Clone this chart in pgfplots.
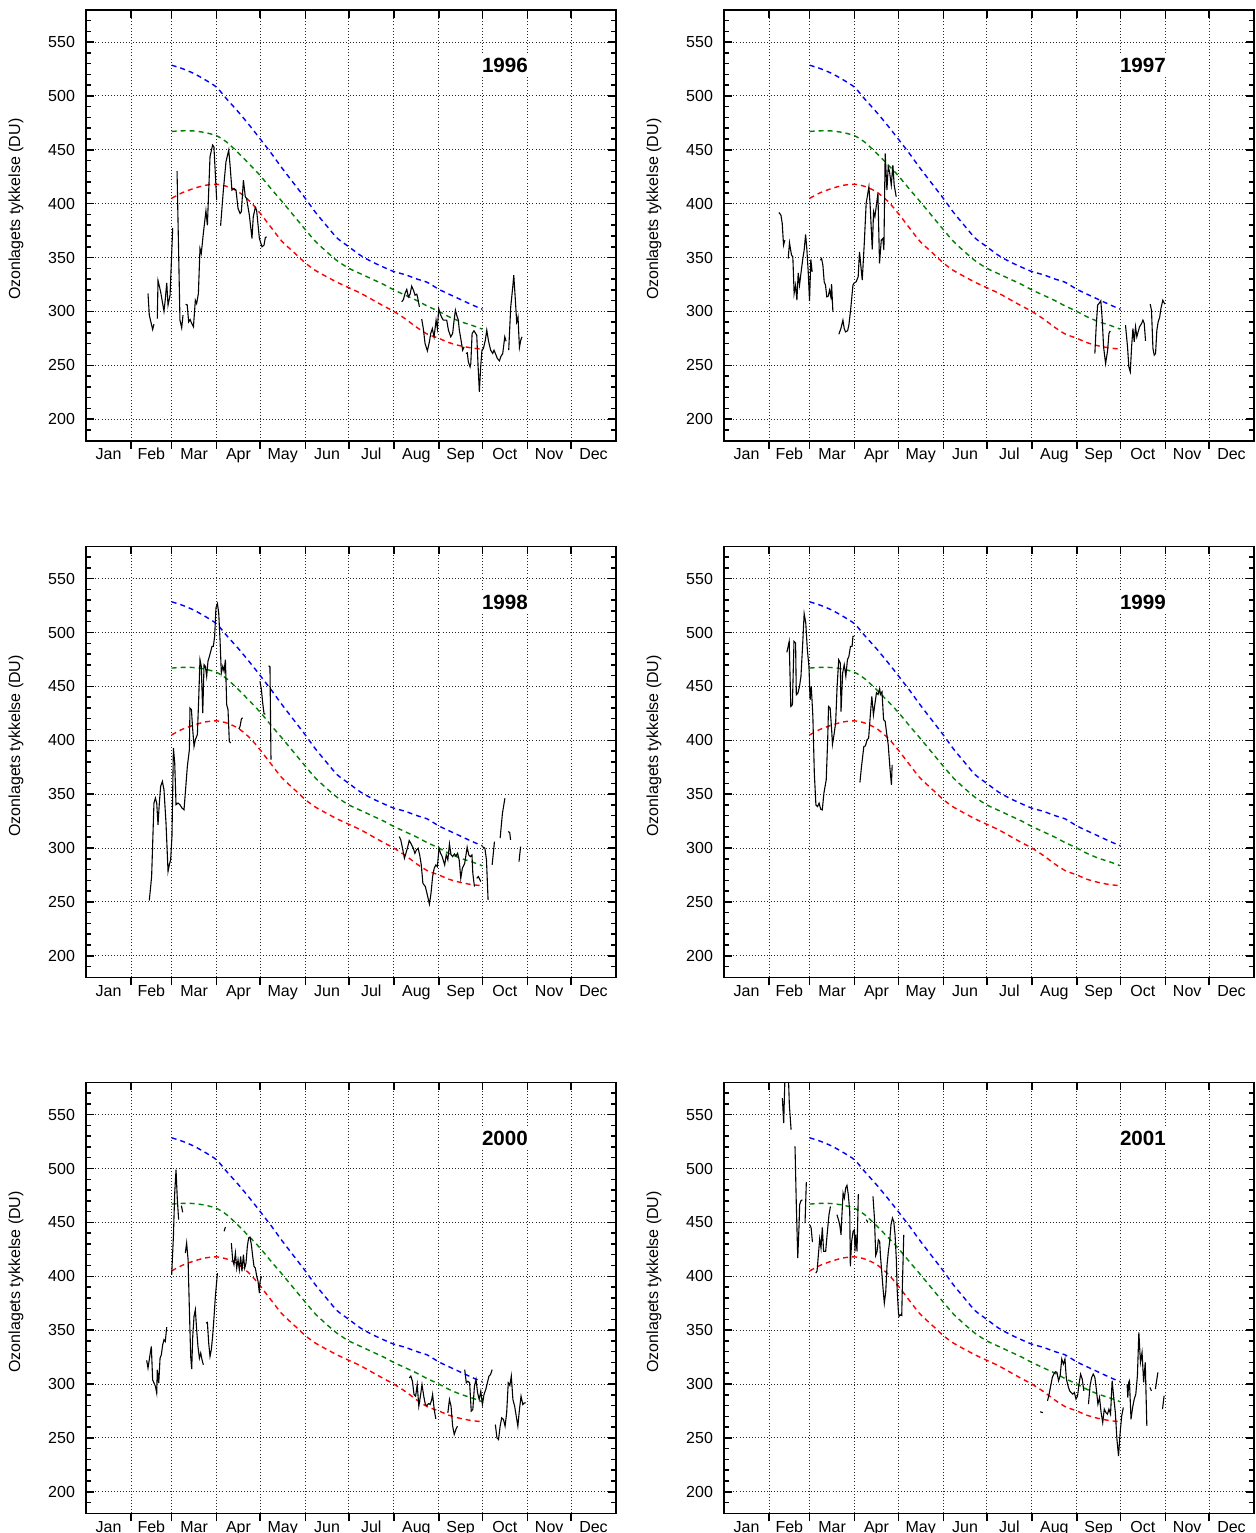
\documentclass[border=0pt]{standalone}
\usepackage{pgfplots}
\pgfplotsset{compat=1.18}
\usepackage{fontspec}
\setmainfont{Liberation Sans}
\definecolor{refblue}{RGB}{0,0,255}
\definecolor{refgreen}{RGB}{0,128,0}
\definecolor{refred}{RGB}{255,0,0}
\pgfplotsset{
  ozonbase/.style={
    scale only axis, width=265pt, height=215.5pt, anchor=south west,
    xmin=0, xmax=365, ymin=180, ymax=580,
    axis line style={line width=0.8pt},
    tick style={black, line width=0.75pt},
    /pgf/number format/assume math mode=true,
    tick label style={font=\fontsize{8}{9.6}\selectfont},
  },
  ozon/.style={
    ozonbase,
    tick align=inside,
    xtick pos=top,
    xtick={31,59,90,120,151,181,212,243,273,304,334},
    xticklabels={},
    ytick={200,250,...,550},
    minor ytick={190,200,...,570},
    ytick pos=both, yticklabel pos=left,
    major tick length=4pt, minor tick length=2.5pt,
    xmajorgrids, ymajorgrids,
    grid style={black!85, line width=0.45pt, dash pattern=on 0.45pt off 1.1pt},
    unbounded coords=jump,
    ylabel={Ozonlagets tykkelse (DU)},
    every axis y label/.style={at={(axis description cs:-0.1321,0.537)}, rotate=90, anchor=center, font=\fontsize{8}{9.6}\selectfont},
    yticklabel style={xshift=-2pt},
  },
  ozonx/.style={
    ozonbase,
    hide y axis,
    xtick pos=bottom, tick align=outside,
    xtick={31,59,90,120,151,181,212,243,273,304,334},
    xticklabels={},
    major tick length=4pt,
    extra x ticks={15.5,45,74.5,105,135.5,166,196.5,227.5,258,288.5,319,349.5},
    extra x tick labels={Jan,Feb,Mar,Apr,May,Jun,Jul,Aug,Sep,Oct,Nov,Dec},
    extra x tick style={major tick length=0pt},
    xticklabel style={anchor=base, yshift=-9.4pt},
  },
  refline/.style={line width=0.7pt, dash pattern=on 2.5pt off 2pt, smooth, tension=0.4},
}
\newcommand\refcurves{%
\addplot[refline, refblue] coordinates {(59,528.5) (66,525.5) (74,521) (82,515) (90,508) (97,497) (105,485) (113,472) (120,460) (128,446) (135,433) (143,419) (151,405) (158,392) (166,379) (173,368) (181,360) (189,352) (197,346) (205,341) (212,337) (220,334) (228,330) (235,327) (243,320.5) (250,316) (258,311) (266,306) (273,302)};
\addplot[refline, refgreen] coordinates {(59,467) (66,467.6) (74,467.5) (82,466) (90,463) (97,457) (105,447) (113,436) (120,426) (128,413) (135,402) (143,389) (151,376) (158,365) (166,355) (173,347) (181,340) (189,335) (197,330) (205,325) (212,320) (220,315) (228,310) (235,305) (243,300) (250,295) (258,290.5) (266,287) (273,283.5)};
\addplot[refline, refred] coordinates {(59,405) (66,410) (74,414) (82,417) (90,418) (97,416) (105,411) (113,402) (120,391) (128,377) (135,365) (143,355) (151,345) (158,338) (166,332) (173,327) (181,322) (189,317) (197,311) (205,305) (212,300) (220,293) (228,285) (235,279) (243,275) (250,271) (258,268) (266,266) (273,265)};
}
\newcommand\panel[4]{%
\begin{axis}[ozon, at={(#1,#2)}]
\refcurves
\addplot[black, line width=0.55pt] coordinates {#4};
\node[fill=white, inner sep=2pt, font=\bfseries\fontsize{10.3}{12}\selectfont] at (axis cs:288.5,528) {#3};
\end{axis}
\begin{axis}[ozonx, at={(#1,#2)}]
\end{axis}}
\begin{document}
\begin{tikzpicture}
% 1996
\panel{43pt}{-220.35pt}{1996}{(42.7,316.6) (43.6,296.5) (45.9,283.2) (46.8,288.2) (47.5,nan) (49.1,293.4) (49.6,328.7) (51.4,318.2) (53.7,300.2) (54.6,311.1) (55.6,326.5) (56.5,305.8) (57.9,315.1) (59.7,377.6) (61,nan)
(62.7,430.2) (64.7,292) (65.9,284.7) (66.8,296.5) (67.5,nan)
(68.6,306.7) (69.7,306) (70.7,290.3) (71.7,292.5) (72.6,289.4) (74,285.7) (75.3,310.4) (76.2,307.3) (77.4,316.6) (78.5,358.4) (79.4,353.8) (80.8,372.3) (82.6,393.4) (83.6,380) (85.4,443.5) (87.2,454.4) (88.1,452.8) (90,403.3) (91,nan)
(92.7,379.5) (94.6,412.6) (96.4,438.9) (98.3,449.7) (99.2,435.8) (100.5,412.6) (101.9,414.1) (103.3,412.6) (104.7,395.6) (106.1,390.9) (107,392.5) (108.4,421.9) (109.7,406.4) (110.6,404.8) (112.5,389.4) (114.3,367.7) (115.2,387.8) (116.6,396.5) (117.5,394) (119.4,367.7) (121.2,360) (122.6,361.5) (123.5,368.6) (124.4,369.2) (150,nan)
(217.4,308.9) (218.6,311) (219.7,316.6) (220.9,320.4) (222,313.5) (223.2,316) (224.3,323.4) (225.5,319.7) (226.6,315.1) (227.8,316) (228.4,312.9) (229.6,304.2) (230,nan)
(231.2,292.8) (232.3,284.1) (233.5,270.2) (235.1,263.4) (236.5,271.8) (237.4,279.5) (238.5,284.1) (239.7,276.4) (241.1,291.9) (242,284.1) (242.9,302.7) (243.8,298.1) (245,294.4) (246.1,291.9) (248.4,291.9) (249.6,282.6) (251.2,276.4) (252.5,279.5) (253.5,291.9) (254.4,301.1) (255.3,296.5) (256.4,291.9) (257.1,282.6) (258.1,274.8) (259.4,264) (260.4,267.1) (261,nan)
(261.7,261) (262.6,261.5) (263.3,253.2) (264.5,248.5) (265,251.6) (265.9,279.5) (267.2,282) (269.1,277.9) (270,250) (270.9,225.3) (271.8,248.5) (272.7,264) (273.7,265.6) (275,273.3) (276,282.6) (277.3,271.8) (278.7,264) (280.1,261) (281,264) (282.4,259.4) (283.3,256.3) (284.7,254.1) (285.6,257.8) (287,261) (288.4,276.4) (289.3,272.3) (290,nan)
(291.1,264) (292.5,304.2) (293.9,322.8) (294.6,333.6) (295.7,310.4) (296.6,290.3) (297.5,295) (298.5,266.5) (299.4,273.3) (300.3,276.4)}
% 1997
\panel{362pt}{-220.35pt}{1997}{(37.8,391.8) (39.2,389.4) (40.1,381.6) (41,361.5) (41.9,366.1) (43,nan)
(44.2,349.1) (45.1,363.7) (46.5,352.2) (47.4,350.7) (48.3,316.6) (49.3,324.4) (50.2,310.4) (51.1,335.8) (52,324.4) (53.4,339.8) (54.3,349.1) (55.2,356.9) (56.2,371.4) (57.1,356.9) (58,336.7) (58.9,309.5) (59.8,348.2) (60.7,336.7) (63,nan)
(66.3,347.6) (67.2,349.1) (68.1,342.9) (69,327.5) (69.9,324.4) (70.8,313.5) (71.8,314.2) (72.7,319.7) (73.6,313.5) (74.1,325.3) (75,299.6) (77,nan)
(79.1,278.9) (80.5,284.1) (81.9,291.9) (82.8,284.1) (83.7,281) (85.1,282) (86,287.2) (87.4,304.2) (88.8,324.4) (89.7,326.5) (91,327.5) (92.4,332.1) (93.3,355.3) (94.3,341.4) (95.2,329) (96.6,363) (97.9,400.2) (99.8,415.7) (100.7,397.1) (102.1,357.5) (103,392.5) (103.9,387.8) (106,409.5) (107.1,344.5) (108.3,366.1) (109.4,367.7) (110.1,356.9) (111,446.6) (112.2,412.6) (113.1,434.2) (114,429.6) (115.2,417.2) (116.3,435.8) (117.2,417.2) (118.6,406.4) (150,nan)
(255.4,260.9) (256.3,285.7) (257.3,305.8) (258.2,307.3) (259.5,309.8) (260.5,291.9) (261.4,267.1) (262.8,251.6) (264.2,264) (265.1,279.5) (266,282) (270,nan)
(276.5,287.2) (277.9,267.1) (278.8,248.5) (279.8,243.9) (280.7,267.1) (281.6,284.1) (282.5,271.8) (283.4,285.7) (284.3,276.4) (285.2,281) (286.2,285.7) (287.6,288.8) (288.5,291.9) (289.4,288.8) (290.3,272.7) (292,nan)
(293.5,306.7) (294.4,301.1) (295.4,265.6) (296.3,259.4) (297.2,260.9) (298.1,282.6) (299,290.3) (300,294.3) (300.9,302.7) (302.2,310.4) (303.6,306.7)}
% 1998
\panel{43pt}{-488.65pt}{1998}{(43.6,251.3) (45.2,273.6) (46.8,341.7) (47.8,346.4) (48.7,341.7) (49.6,321.6) (50.5,341.7) (51.4,357.2) (52.6,361.8) (53.7,354.1) (55.1,323.1) (56.5,278.3) (57.4,284.5) (58.3,289.1) (59.2,310.8) (60.2,392.8) (61.1,378.9) (62,340.2) (63.4,341.7) (64.7,340.2) (66.1,337.1) (67.5,335.5) (68.4,351) (69.8,375.8) (71.2,391.2) (71.6,429.9) (72.6,428.4) (73.5,409.8) (74.4,394.3) (75.3,400.5) (76.7,405.2) (77.6,437.7) (78.5,474.8) (79.4,468.6) (80.4,425.3) (81.3,470.2) (82.2,468.6) (83.1,459.3) (84,473.3) (85,477.9) (85.9,482.5) (86.8,487.2) (87.7,487.2) (88.6,496.5) (89.5,522.8) (90.5,526.8) (91.4,518.1) (92.3,493.4) (93.2,462.4) (94.2,468.6) (95.1,464) (96,474.8) (96.4,456.2) (96.9,433) (97.8,428.4) (98.7,399) (99.6,397.4) (102,nan)
(105.2,410.4) (106.1,412.9) (107,419.7) (107.9,420.9) (110,nan)
(119.8,454.7) (120.8,447) (121.7,434.5) (122.6,424.7) (123.5,424.1) (124.5,nan)
(125.8,469.2) (126.7,468) (127.4,382) (150,nan)
(215.7,310.6) (216.8,307.5) (218.2,298.2) (219.3,290.5) (221,298.2) (222.6,306.9) (223.7,304.4) (225.4,299.8) (226.5,295.1) (227.6,298.2) (228.7,299.8) (229.8,293.6) (230.9,284.3) (232,267.3) (233.7,264.2) (234.8,258) (236.5,248) (237.6,258) (238.7,273.5) (239.8,281.2) (240.9,284.3) (242,282.7) (243.1,299.8) (244.2,295.1) (245.3,292) (247,284.3) (248.1,293.6) (249.2,289) (250.3,303.8) (251.4,293.6) (252.5,292) (253.7,294.5) (254.8,292.6) (255.9,295.1) (257,289) (258.1,271.9) (259.2,281.2) (260.8,285.8) (262.5,300.7) (263.6,293.6) (264.7,292) (265.8,293.6) (266.4,276.5) (267.5,264.2) (268.3,nan)
(269.1,271.9) (270.2,273.5) (271.9,268.8) (272.5,nan)
(273,301.3) (274.7,299.8) (275.8,289) (276.9,251.8) (278,nan)
(279.7,284.3) (281.3,306) (283,nan)
(285.2,309.1) (286.8,332.3) (288.5,346.2) (289.5,nan)
(290.7,315.3) (291.8,314.4) (292.4,307.5) (295,nan)
(298.2,287.4) (299.3,301.3)}
% 1999
\panel{362pt}{-488.65pt}{1999}{(43.3,481.6) (44.9,491.8) (46,431.4) (47.1,432.9) (48.2,491.8) (49.3,490.2) (49.8,442.2) (50.9,443.8) (52,450) (53,459.3) (54.1,487.1) (55.2,517.5) (56.3,508.9) (57.4,484) (58.5,468.6) (59.3,437.6) (60.1,450) (61.2,422.1) (62.2,369.4) (63.3,340) (64.4,338.5) (65.5,341.6) (66.6,336) (67.7,335.4) (68.8,350.9) (70.4,363.3) (71.4,400.4) (72,431.4) (73.1,429.9) (74.2,408.2) (74.7,396.2) (75.8,405.5) (76.9,416.4) (77.9,450) (79,474.7) (80.1,471.6) (80.6,426.7) (81.7,462.4) (82.8,470.1) (83.9,459.3) (85,474.7) (86,477.8) (87.1,487.1) (88.2,487.1) (88.8,496.4) (89.8,496.4) (91,nan)
(93.6,360.8) (94.7,375.6) (96.3,394.2) (97.4,394.8) (98.5,400.4) (99.6,401.9) (100.7,422.1) (101.8,440.7) (102.9,423.6) (104,434.5) (105,444.1) (106.1,442.5) (107.2,447.8) (107.7,442.5) (108.8,445) (109.9,419) (111,417.5) (112,406.6) (113.1,395.8) (114.2,375.6) (115.3,358.6) (115.8,377.2)}
% 2000
\panel{43pt}{-756.65pt}{2000}{(41.8,321.9) (42.7,314.8) (44.1,327.2) (45,334.9) (45.9,303.9) (46.9,300.8) (47.8,297.8) (48.7,291.6) (49.1,313.2) (49.6,307) (50.1,300.8) (51,324) (51.9,327.2) (52.8,336.4) (53.7,341.1) (54.6,339.5) (55.6,352.8) (57,nan)
(59,401.4) (60.2,437) (61.1,477.3) (62,498.9) (62.9,471.1) (63.8,452.5) (64.5,nan)
(65.7,465.5) (66.6,459.3) (67.5,nan)
(68.4,421.6) (69.3,430.8) (70.3,415.4) (71.2,369) (72.1,325.6) (72.8,313.8) (73.5,344.2) (74.4,362.8) (75.3,369) (76.2,350.4) (77.1,334.9) (78.1,324) (79,328.7) (79.9,322.5) (80.8,317.9) (81.7,nan)
(82.7,356.6) (83.6,357.2) (84.5,338) (85.4,325.6) (86.3,331.8) (87.2,344.2) (88.2,362.8) (89.1,381.3) (90.5,403) (93,nan)
(95.1,441.7) (96,445.7) (98,nan)
(100.1,430.8) (101,415.4) (101.9,410.8) (102.9,421.6) (103.8,407.6) (104.7,415.4) (105.6,406.1) (106.5,418.5) (107.4,404.5) (108.4,420) (109.3,407.6) (110.2,412.3) (111.1,427.7) (112,435.5) (112.9,436.4) (113.9,429.3) (114.8,418.5) (115.7,409.2) (116.6,407.6) (117.6,399.9) (118.5,395.2) (119.4,384.4) (119.9,395.2) (120.8,399.9) (150,nan)
(222.6,305.7) (223.7,307.3) (224.8,302.6) (225.9,290.3) (227,288.7) (228.1,299.5) (229.2,279.4) (230.3,288.7) (231.4,299.5) (232.6,288.7) (233.7,281) (234.8,280) (235.9,281.9) (237,281) (238.1,285.6) (238.7,290.3) (239.8,276.3) (240.9,267.7) (245,nan)
(249.2,273.2) (250.3,285.6) (251.4,279.4) (252.5,260.9) (253.6,253.2) (254.7,257.8) (255.8,260.9) (258,nan)
(260.8,313.4) (261.9,301.1) (263,302.6) (264.2,301.1) (265.3,274.8) (266.4,276.3) (267.5,297.9) (268.6,304.2) (269.7,291.8) (270.8,285.6) (271.9,293.4) (273,281) (274.1,290.3) (275.3,294.9) (276.4,301.1) (277.5,307.3) (278.6,308.8) (279.7,313.4) (280.8,nan)
(281.9,262.4) (283,250.1) (284.1,248.5) (285.2,260.9) (286.3,268.6) (287.5,267.1) (288.6,260.9) (289.7,273.2) (290.8,301.1) (291.9,298.6) (292.9,307.3) (294,285.6) (295.2,279.4) (296.3,270.2) (297.4,260.9) (298.5,276.3) (299.6,288.7) (300.8,281) (301.9,282.5) (302.9,282.5)}
% 2001
\panel{362pt}{-756.65pt}{2001}{(40.2,565.4) (41.1,542.2) (42.3,600) (43,nan)
(44,600) (45,559.2) (46.2,536) (47.5,nan)
(48.9,520.6) (49.8,466.4) (50.8,416.9) (51.7,447.8) (52.1,466.4) (53,470.1) (54,471) (55,nan)
(55.8,449.4) (56.7,487.4) (58,nan)
(59,447.8) (60,445) (60.9,431.7) (62,nan)
(63.2,402.9) (64.1,405) (65,419.9) (65.9,434.8) (66.8,426.2) (67.7,445.3) (68.6,423.1) (70,423.1) (71,438.5) (72.3,457.1) (73.3,464.8) (75,nan)
(77.8,457.1) (78.8,452.5) (79.7,447.8) (80.6,438.5) (81.1,454) (82,477.2) (82.9,472.6) (83.8,481.9) (84.7,484.3) (85.6,475.7) (86.6,460.2) (87,409.1) (87.9,432.3) (88.9,441.6) (89.8,443.1) (90.2,423.1) (90.7,438.5) (91.6,423.1) (92.5,476.3) (95,nan)
(98,452.5) (99,450.3) (100,nan)
(102.6,474.1) (103.6,454) (104.5,419.3) (105.4,423.1) (106.3,433.9) (107.2,432.3) (107.7,420) (108.6,404.5) (109.5,389) (110.4,375.1) (111.4,385.9) (112.3,410.7) (113.2,423.1) (114.1,432.3) (115,447.8) (116,454) (116.9,450.9) (117.8,438.5) (118.7,415.3) (119.2,389) (120.1,367.3) (120.5,362.7) (121.4,364.2) (122.4,363.6) (122.8,389) (123.8,438.5) (150,nan)
(217.7,274.2) (219.6,273.5) (221,nan)
(222.8,284.4) (223.9,290.6) (225,298.4) (226.1,306.1) (227.1,309.2) (228.2,311.4) (229.3,310.8) (230.4,303) (231.5,307.7) (232.6,323.2) (233.7,318.5) (234.8,323.2) (235.8,304.6) (236.9,298.4) (238,293.7) (239.1,292.1) (240.2,290.6) (241.3,292.1) (242.4,286) (243.5,289) (244.5,300) (245.6,309.2) (246.7,304.6) (247.8,293.7) (249,nan)
(251,281.3) (252.1,298.4) (253.2,306.1) (254.3,309.2) (255.4,306.1) (256.4,295.3) (257.5,281.3) (258.6,287.5) (259.7,273.6) (260.8,264.2) (261.9,276.7) (263,273.6) (264.1,272) (265.1,276.7) (266.2,272) (267.3,303) (268.4,287.5) (269.5,273.6) (270.6,248.7) (271.7,233.2) (272.8,254.9) (273.9,270.4) (275,278.2) (276.5,nan)
(277.6,299.9) (278.1,287.5) (278.7,301.5) (279.2,303) (280.3,267.3) (281.4,278.2) (282.5,285.9) (283.6,290.6) (284.7,307.7) (285.7,348) (286.8,320.1) (287.9,329.4) (289,301.5) (290.1,320.1) (291.2,261.1) (292,nan)
(293.3,296.8) (294.4,293.7) (296,nan)
(297.1,295.3) (298.8,310.8) (300,nan)
(302,276.7) (303.1,289.1)}
\pgfresetboundingbox
\path[use as bounding box] (0,0) rectangle (628pt,-766.5pt);
\end{tikzpicture}
\end{document}
